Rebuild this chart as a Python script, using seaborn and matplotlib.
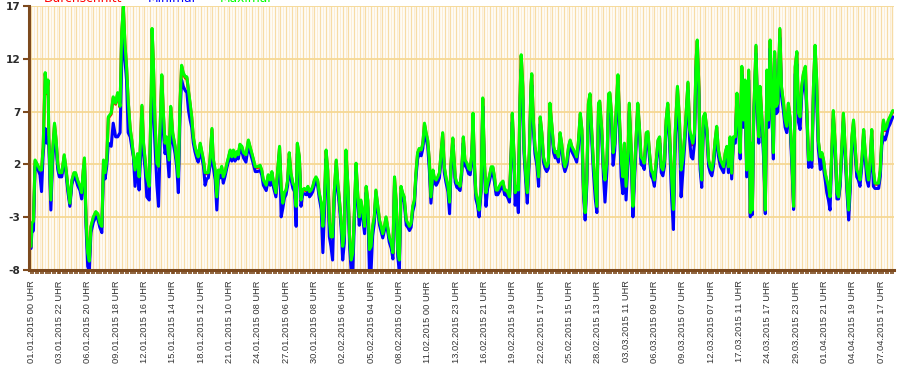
import numpy as np
import pandas as pd
import matplotlib
matplotlib.use("Agg")
import matplotlib.pyplot as plt
from matplotlib.ticker import FixedLocator, MultipleLocator
import seaborn as sns

# ---------------- data (hourly measurement index -> temperature) ----------------
mess_idx = [0,2,6,10,18,22,26,30,35,39,42,44,49,53,58,62,66,70,76,82,86,91,96,101,106,110,115,121,125,129,132,136,140,144,148,154,160,165,170,175,179,183,187,191,198,203,209,214,220,
224,228,232,236,240,245,249,253,257,263,267,274,278,282,286,292,297,299,302,306,311,315,319,323,327,331,335,341,345,350,356,360,364,368,372,376,381,385,389,393,397,401,405,409,413,418,426,430,434,438,442,447,450,455,459,463,467,471,475,479,484,488,492,496,500,504,508,512,516,521,525,531,537,541,548,554,559,566,570,574,581,586,591,595,599,605,610,614,618,622,626,630,634,638,642,647,651,655,658,663,667,671,675,680,684,688,692,696,700,704,708,712,717,721,725,729,733,737,741,745,749,754,758,762,766,770,774,778,783,787,791,795,799,803,807,811,815,820,824,828,832,836,840,844,848,852,857,861,865,869,873,877,881,885,890,894,898,902,906,910,914,918,922,927,931,935,939,943,947,951,955,959,964,968,972,976,980,984,988,993,996,1001,1005,1009,1013,1017,1021,1025,1030,1034,1038,1042,1048,1052,1056,1060,1064,1068,1072,1077,1081,1085,1089,1092,1095,1099,1103,1107,1112,1116,1120,1124,1128,1132,1137,1141,1145,1149,1153,1157,1161,1166,1170,1174,1178,1182,1186,1189,1193,1196,1200,1204,1208,1211,1215,1218,1222,1226,1231,1235,1237,1241,1245,1250,1254,1258,1262,1266,1270,1274,1278,1282,1287,1291,1295,1299,1303,1307,1311,1315,1319,1324,1328,1332,1336,1340,1344,1348,1352,1357,1361,1365,1369,1373,1377,1381,1385,1389,1394,1398,1402,1405,1410,1414,1418,1423,1427,1430,1434,1438,1442,1446,1450,1454,1458,1462,1466,1470,1475,1478,1483,1487,1491,1495,1499,1503,1507,1512,1515,1520,1524,1528,1532,1536,1540,1544,1549,1553,1557,1561,1565,1569,1573,1577,1583,1587,1591,1597,1602,1606,1610,1616,1623,1627,1631,1635,1639,1643,1646,1650,1653,1657,1661,1665,1670,1674,1678,1682,1686,1690,1694,1698,1703,1707,1711,1715,1719,1723,1727,1731,1735,1740,1744,1748,1752,1756,1760,1764,1768,1773,1777,1780,1782,1785,1791,1795,1798,1801,1806,1810,1814,1818,1822,1826,1830,1834,1837,1841,1845,1850,1854,1859,1863,1867,1871,1875,1880,1884,1888,1892,1896,1900,1904,1908,1913,1917,1921,1925,1929,1933,1937,1941,1945,1950,1954,1958,1962,1966,1970,1974,1978,1982,1987,1991,1995,1999,2003,2007,2011,2016,2020,2024,2028,2032,2036,2040,2044,2048,2053,2057,2061,2065,2069,2073,2077,2081,2085,2090,2094,2098,2102,2106,2110,2114,2118,2122,2129]

temp_max = [-5.8,-3.6,-3.4,2.4,1.8,1.45,1.45,3.66,10.7,8.8,10.0,4.6,-1.4,3.0,5.9,4.3,2.1,1.2,1.2,2.9,1.76,-0.1,-1.7,0.5,1.2,1.2,0.5,-0.1,-0.7,1.45,2.6,-3.3,-6.4,-7.2,-3.9,-3.0,-2.5,-2.7,-3.6,-3.9,2.4,1.2,2.4,6.5,6.85,8.4,7.8,8.8,7.5,
14.5,17.0,13.5,11.3,8.1,5.4,4.3,2.9,1.45,3.0,0.8,7.6,4.0,2.4,0.8,-0.1,8.8,14.9,12.0,6.2,2.1,1.8,5.6,10.5,6.85,4.0,4.6,2.4,7.5,5.0,3.7,2.4,0.8,7.8,11.4,10.7,10.3,10.3,9.0,7.8,6.5,4.6,3.7,3.1,2.7,4.0,2.4,1.2,1.2,1.2,2.4,5.4,2.6,1.45,-1.1,1.45,1.2,1.8,0.8,1.2,2.1,2.7,3.35,2.7,3.35,2.7,3.2,2.9,3.9,3.7,3.1,2.9,4.3,3.7,2.7,1.76,1.76,1.9,1.45,0.5,0.0,1.0,0.5,1.3,0.3,-0.7,1.76,3.7,-0.1,-1.7,-0.7,-0.45,0.5,3.1,1.2,0.2,-0.1,-2.0,4.0,2.7,-1.4,-0.45,-0.3,-0.45,-0.1,-0.6,-0.45,-0.1,0.5,0.8,0.5,-0.7,-1.7,-3.9,-1.4,3.35,1.45,-3.3,-4.9,-4.9,-0.7,2.4,0.2,-1.4,-3.3,-5.8,-4.6,3.35,-0.1,-4.9,-7.1,-6.4,-2.35,2.1,-0.7,-3.0,-1.4,-2.7,-3.9,-0.1,-1.4,-6.1,-5.8,-3.9,-3.0,-0.45,-2.0,-3.3,-3.9,-4.6,-3.9,-3.0,-3.9,-4.9,-5.5,-6.4,0.8,-1.4,-6.1,-7.1,-0.1,-0.7,-1.1,-3.3,-3.6,-3.9,-3.6,-2.0,-1.4,1.2,3.1,3.5,3.35,4.0,5.9,5.0,4.3,2.4,-1.1,1.45,0.8,0.5,0.8,1.2,3.1,5.0,1.76,0.8,-0.1,-1.6,2.4,4.5,0.8,0.2,0.2,-0.1,1.45,4.6,2.4,2.1,1.6,1.45,3.1,6.85,2.4,-0.7,-1.4,-2.35,-0.1,8.3,2.4,-0.7,0.2,0.8,1.76,1.76,0.8,-0.45,-0.45,-0.1,0.2,0.4,-0.45,-0.45,-0.7,-1.1,3.1,6.85,3.1,-0.7,-0.1,-0.45,8.4,12.4,9.4,3.7,1.15,-0.7,3.1,9.4,10.6,6.2,3.7,2.4,0.8,6.5,5.0,2.7,2.1,1.76,2.1,7.8,5.6,3.7,3.1,3.2,2.7,5.0,4.0,2.4,1.76,2.4,3.7,4.3,3.7,3.4,3.1,2.7,4.0,6.85,5.3,-0.45,-2.6,0.5,7.8,8.7,5.3,2.4,-0.1,-2.0,7.8,8.0,5.3,1.76,0.5,2.4,8.7,8.8,6.85,3.1,4.0,7.5,10.5,6.2,2.4,0.8,4.0,-0.1,3.1,7.8,3.1,-2.0,1.45,4.6,7.8,5.6,2.7,2.4,2.1,5.0,5.1,3.1,1.45,1.15,0.5,2.1,4.3,4.6,1.76,1.45,2.4,6.2,7.8,5.3,0.5,-2.3,4.6,9.4,6.2,1.45,2.4,5.3,9.8,5.3,4.6,4.0,5.0,11.9,13.8,9.4,2.4,0.5,6.5,6.85,5.3,2.4,1.76,1.45,2.4,4.3,5.6,3.4,2.4,2.1,1.76,3.1,3.7,1.76,4.6,1.15,4.6,4.6,8.75,6.2,3.1,11.3,6.2,10.0,1.45,10.95,-2.6,4.0,-2.35,6.2,13.3,7.1,4.6,9.4,6.2,3.4,-2.35,10.95,6.2,13.8,7.8,3.1,12.7,7.5,7.8,14.9,9.4,7.8,6.2,5.6,7.8,6.5,2.4,-2.0,11.3,12.7,6.85,6.5,9.4,10.6,11.3,6.85,2.4,3.1,2.4,9.4,13.3,10.0,4.3,2.7,3.1,2.4,1.15,0.5,-0.1,-1.1,3.1,7.1,3.7,-0.7,-1.1,0.5,3.7,6.85,3.7,-0.1,-2.35,0.5,4.6,6.2,3.7,1.45,1.15,0.5,2.7,5.3,3.1,1.45,0.5,2.4,5.3,1.45,0.2,0.2,0.2,1.45,4.6,6.2,5.3,5.6,6.2,6.5,7.1]

temp_min = [-6.0,-4.5,-4.3,1.8,1.4,1.0,-0.6,3.0,5.4,4.0,4.5,3.7,-2.35,2.0,5.0,3.6,1.5,0.8,0.8,2.4,1.3,-0.6,-2.0,0.1,0.8,0.7,0.0,-0.5,-1.3,0.8,2.0,-4.0,-7.7,-8.2,-4.5,-3.5,-3.0,-3.2,-4.0,-4.5,1.5,0.6,1.8,4.0,3.7,5.9,4.6,4.6,5.0,
11.5,15.4,11.9,10.0,5.0,4.6,3.6,2.7,-0.1,2.0,-0.45,5.5,3.0,1.5,-1.1,-1.4,7.0,9.0,8.0,4.0,0.0,-2.0,4.0,8.0,5.0,3.0,3.8,0.8,6.0,4.2,3.0,1.7,-0.7,6.5,10.0,9.4,9.0,8.8,7.1,6.2,5.5,4.0,3.2,2.6,2.2,3.4,1.8,0.0,0.6,0.7,1.8,4.5,1.8,0.5,-2.35,0.8,0.7,1.3,0.2,0.8,1.7,2.3,2.9,2.3,2.9,2.3,2.8,2.5,3.4,3.2,2.6,2.2,3.8,3.2,2.2,1.3,1.3,1.4,1.0,0.0,-0.5,0.5,0.0,0.8,-0.2,-1.1,1.2,3.0,-3.0,-2.2,-1.2,-0.9,0.0,2.5,0.6,-0.3,-0.6,-3.9,3.0,2.0,-2.0,-0.9,-0.8,-0.9,-0.6,-1.1,-0.9,-0.6,0.0,0.3,0.0,-1.2,-2.3,-6.4,-2.5,2.5,0.5,-4.9,-5.8,-7.1,-1.5,1.6,-0.5,-2.0,-4.0,-7.1,-5.5,2.4,-0.8,-5.8,-8.2,-8.2,-3.2,1.3,-1.4,-3.8,-2.0,-3.3,-4.6,-0.7,-2.2,-8.2,-8.2,-4.8,-3.6,-1.0,-2.6,-3.8,-4.4,-5.0,-4.3,-3.5,-4.3,-5.4,-6.0,-7.0,0.0,-2.0,-6.8,-8.2,-0.8,-1.2,-1.6,-3.8,-4.0,-4.3,-4.0,-2.5,-1.9,0.7,2.5,3.0,2.8,3.5,5.2,4.4,3.7,1.5,-1.7,0.8,0.3,0.0,0.3,0.7,2.5,4.3,1.2,0.3,-0.6,-2.7,1.8,3.8,0.3,-0.2,-0.3,-0.5,1.0,4.0,1.9,1.6,1.1,1.0,2.5,5.8,1.7,-1.3,-1.9,-3.0,-0.6,7.5,1.5,-2.0,-0.3,0.3,1.2,1.2,0.3,-0.9,-0.9,-0.6,-0.3,-0.1,-0.9,-0.9,-1.2,-1.6,2.5,6.0,2.4,-1.9,-0.6,-2.6,7.0,11.0,8.0,3.0,0.5,-1.7,2.4,8.5,9.5,5.3,3.0,1.8,-0.1,5.8,4.3,2.2,1.6,1.3,1.6,7.0,5.0,3.1,2.6,2.7,2.2,4.4,3.5,1.9,1.3,1.9,3.2,3.8,3.2,2.9,2.6,2.2,3.4,6.0,4.5,-1.0,-3.3,-0.2,7.0,7.8,4.5,1.5,-1.3,-2.6,6.8,7.3,4.5,1.0,-1.6,1.5,7.8,8.0,6.0,1.9,3.3,6.5,9.5,5.3,0.8,-0.8,3.2,-1.4,2.3,7.0,2.2,-3.0,0.6,3.9,7.1,4.9,2.0,1.8,1.5,4.3,4.4,2.5,0.9,0.6,-0.1,1.5,3.6,4.0,1.2,0.9,1.8,5.5,7.0,4.5,-1.5,-4.2,3.0,8.0,5.0,-1.1,1.0,4.5,9.0,4.3,2.7,2.5,4.0,11.0,12.5,8.5,1.5,-0.2,5.5,6.0,4.5,1.8,1.2,0.9,1.8,3.6,4.8,2.8,1.8,1.5,1.2,2.5,3.1,1.2,4.0,0.6,4.0,4.0,8.0,5.5,2.5,10.5,5.5,9.0,0.8,10.0,-3.0,3.0,-2.8,5.5,12.5,6.5,4.0,8.5,5.5,2.5,-2.7,10.0,5.5,13.0,7.0,2.5,12.0,6.8,7.0,14.0,8.5,7.0,5.5,5.0,7.0,5.8,1.6,-2.3,10.5,11.5,6.0,5.3,8.5,9.5,10.0,6.2,1.7,2.4,1.7,8.5,12.3,7.8,3.5,1.5,2.4,1.6,0.5,-0.7,-1.4,-2.35,2.3,6.3,3.0,-1.3,-1.3,-0.1,3.0,6.1,3.0,-0.8,-3.3,-0.3,3.8,5.5,3.0,0.8,0.5,-0.1,2.0,4.6,2.4,0.5,-0.1,1.7,4.3,-0.1,-0.3,-0.3,-0.3,0.8,3.8,4.6,4.3,4.8,5.5,5.8,6.5]

temp_avg = [-5.9,-3.7,-3.5,2.3,1.7,1.35,1.35,3.55,10.6,8.7,9.9,4.5,-1.5,2.9,5.8,4.2,2.0,1.1,1.1,2.8,1.65,-0.2,-1.8,0.4,1.1,1.1,0.4,-0.2,-0.8,1.35,2.5,-3.4,-6.5,-7.3,-4.0,-3.1,-2.6,-2.8,-3.7,-4.0,2.3,1.1,2.3,6.4,6.75,8.3,7.7,8.7,7.4,
14.4,16.9,13.4,11.2,8.0,5.3,4.2,2.8,1.35,2.9,0.7,7.5,3.9,2.3,0.7,-0.2,8.7,14.8,11.9,6.1,2.0,1.7,5.5,10.4,6.75,3.9,4.5,2.3,7.4,4.9,3.6,2.3,0.7,7.7,11.3,10.6,10.2,10.2,8.9,7.7,6.4,4.5,3.6,3.0,2.6,3.9,2.3,1.1,1.1,1.1,2.3,5.3,2.5,1.35,-1.2,1.35,1.1,1.7,0.7,1.1,2.0,2.6,3.25,2.6,3.25,2.6,3.1,2.8,3.8,3.6,3.0,2.8,4.2,3.6,2.6,1.66,1.66,1.8,1.35,0.4,-0.1,0.9,0.4,1.2,0.2,-0.8,1.66,3.6,-0.2,-1.8,-0.8,-0.55,0.4,3.0,1.1,0.1,-0.2,-2.1,3.9,2.6,-1.5,-0.55,-0.4,-0.55,-0.2,-0.7,-0.55,-0.2,0.4,0.7,0.4,-0.8,-1.8,-4.0,-1.5,3.25,1.35,-3.4,-5.0,-5.0,-0.8,2.3,0.1,-1.5,-3.4,-5.9,-4.7,3.25,-0.2,-5.0,-7.2,-6.5,-2.45,2.0,-0.8,-3.1,-1.5,-2.8,-4.0,-0.2,-1.5,-6.2,-5.9,-4.0,-3.1,-0.55,-2.1,-3.4,-4.0,-4.7,-4.0,-3.1,-4.0,-5.0,-5.6,-6.5,0.7,-1.5,-6.2,-7.2,-0.2,-0.8,-1.2,-3.4,-3.7,-4.0,-3.7,-2.1,-1.5,1.1,3.0,3.4,3.25,3.9,5.8,4.9,4.2,2.3,-1.2,1.35,0.7,0.4,0.7,1.1,3.0,4.9,1.66,0.7,-0.2,-1.7,2.3,4.4,0.7,0.1,0.1,-0.2,1.35,4.5,2.3,2.0,1.5,1.35,3.0,6.75,2.3,-0.8,-1.5,-2.45,-0.2,8.2,2.3,-0.8,0.1,0.7,1.66,1.66,0.7,-0.55,-0.55,-0.2,0.1,0.3,-0.55,-0.55,-0.8,-1.2,3.0,6.75,3.0,-0.8,-0.2,-0.55,8.3,12.3,9.3,3.6,1.05,-0.8,3.0,9.3,10.5,6.1,3.6,2.3,0.7,6.4,4.9,2.6,2.0,1.66,2.0,7.7,5.5,3.6,3.0,3.1,2.6,4.9,3.9,2.3,1.66,2.3,3.6,4.2,3.6,3.3,3.0,2.6,3.9,6.75,5.2,-0.55,-2.7,0.4,7.7,8.6,5.2,2.3,-0.2,-2.1,7.7,7.9,5.2,1.66,0.4,2.3,8.6,8.7,6.75,3.0,3.9,7.4,10.4,6.1,2.3,0.7,3.9,-0.2,3.0,7.7,3.0,-2.1,1.35,4.5,7.7,5.5,2.6,2.3,2.0,4.9,5.0,3.0,1.35,1.05,0.4,2.0,4.2,4.5,1.66,1.35,2.3,6.1,7.7,5.2,0.4,-2.4,4.5,9.3,6.1,1.35,2.3,5.2,9.7,5.2,3.8,3.9,4.9,11.8,13.7,9.3,2.3,0.4,6.4,6.75,5.2,2.3,1.66,1.35,2.3,4.2,5.5,3.3,2.3,2.0,1.66,3.0,3.6,1.66,4.5,1.05,4.5,4.5,8.65,6.1,3.0,11.2,6.1,9.9,1.35,10.85,-2.7,3.9,-2.45,6.1,13.2,7.0,4.5,9.3,6.1,3.3,-2.45,10.85,6.1,13.7,7.7,3.0,12.6,7.4,7.7,14.8,9.3,7.7,6.1,5.5,7.7,6.4,2.3,-2.1,11.2,12.6,6.75,6.4,9.3,10.5,11.2,6.75,2.3,3.0,2.3,9.3,13.2,9.9,4.2,2.6,3.0,2.3,1.05,0.4,-0.2,-1.2,3.0,7.0,3.6,-0.8,-1.2,0.4,3.6,6.75,3.6,-0.2,-2.45,0.4,4.5,6.1,3.6,1.35,1.05,0.4,2.6,5.2,3.0,1.35,0.4,2.3,5.2,1.35,0.1,0.1,0.1,1.35,4.5,6.1,5.2,5.5,6.1,6.4,7.0]

tick_labels = ["01.01.2015 00 UHR", "03.01.2015 22 UHR", "06.01.2015 20 UHR", "09.01.2015 18 UHR",
               "12.01.2015 16 UHR", "15.01.2015 14 UHR", "18.01.2015 12 UHR", "21.01.2015 10 UHR",
               "24.01.2015 08 UHR", "27.01.2015 06 UHR", "30.01.2015 08 UHR", "02.02.2015 06 UHR",
               "05.02.2015 04 UHR", "08.02.2015 02 UHR", "11.02.2015 00 UHR", "13.02.2015 23 UHR",
               "16.02.2015 21 UHR", "19.02.2015 19 UHR", "22.02.2015 17 UHR", "25.02.2015 15 UHR",
               "28.02.2015 13 UHR", "03.03.2015 11 UHR", "06.03.2015 09 UHR", "09.03.2015 07 UHR",
               "12.03.2015 07 UHR", "17.03.2015 11 UHR", "24.03.2015 17 UHR", "29.03.2015 23 UHR",
               "01.04.2015 21 UHR", "04.04.2015 19 UHR", "07.04.2015 17 UHR"]
label_step = 70
y_ticks = [-8, -3, 2, 7, 12, 17]
series_names = ["Durchschnitt", "Minimal", "Maximal"]
series_colors = ["#ff0000", "#0000ff", "#00ff00"]

print(len(mess_idx), len(temp_max), len(temp_min), len(temp_avg))

# ---------------- figure ----------------
sns.set_style("white")
plt.rcParams['font.family'] = ['DejaVu Sans']

W, H = 912, 376
fig = plt.figure(figsize=(W / 100, H / 100), dpi=100)
left_px, right_px, top_px, bot_px = 29, 894, 6.3, 269.5
ax = fig.add_axes([left_px / W, 1 - bot_px / H, (right_px - left_px) / W, (bot_px - top_px) / H])

n = min(len(mess_idx), len(temp_max), len(temp_min), len(temp_avg))
df = pd.DataFrame({
    "idx": list(mess_idx[:n]) * 3,
    "wert": list(temp_avg[:n]) + list(temp_min[:n]) + list(temp_max[:n]),
    "reihe": [series_names[0]] * n + [series_names[1]] * n + [series_names[2]] * n,
})

brown = "#7d4a1e"
x_end = 2132
# vertical alternating grid
vx = np.arange(0, x_end, 7)
vcols = ["#f7dca6" if (i % 2 == 0) else "#fcedd3" for i in range(len(vx))]
ax.vlines(vx, -8, 17, colors=vcols, linewidth=1.0, zorder=0)
for yv in y_ticks:
    ax.axhline(yv, color="#f6d894", linewidth=1.3, zorder=0.5)

sns.lineplot(data=df, x="idx", y="wert", hue="reihe", hue_order=series_names,
             palette=dict(zip(series_names, series_colors)), estimator=None, sort=False,
             linewidth=2.2, legend=False, ax=ax, zorder=2)

ax.set_xlim(-5, x_end)
ax.set_ylim(-8, 17)
ax.set_xlabel("")
ax.set_ylabel("")

for s in ["top", "right"]:
    ax.spines[s].set_visible(False)
ax.spines["left"].set_color(brown)
ax.spines["left"].set_linewidth(2.2)
ax.spines["bottom"].set_color(brown)
ax.spines["bottom"].set_linewidth(2.2)
ax.spines["left"].set_zorder(5)
ax.spines["bottom"].set_zorder(5)

ax.set_yticks(y_ticks)
ax.set_yticklabels([str(v) for v in y_ticks], fontsize=7.6, fontweight="bold", color="#2a2a2a")
ax.tick_params(axis="y", which="major", length=4, width=1.5, color=brown, pad=2, left=True)

ax.xaxis.set_major_locator(FixedLocator([i * label_step for i in range(len(tick_labels))]))
ax.set_xticklabels(tick_labels, rotation=90, fontsize=6.7, color="#333333",
                   family=["Liberation Sans", "DejaVu Sans"], va="top", ha="center")
ax.xaxis.set_minor_locator(MultipleLocator(6))
ax.tick_params(axis="x", which="both", length=3, width=1.2, color=brown, pad=5, bottom=True, direction="out")

# legend header (partly cut at the top edge like the original)
leg_x = [44, 148, 220]
for name, col, lx in zip(series_names, series_colors, leg_x):
    fig.text(lx / W, 1 - 2 / H, name, color=col, fontsize=8.8, va="baseline", ha="left")

fig.savefig("out.png", dpi=100)
